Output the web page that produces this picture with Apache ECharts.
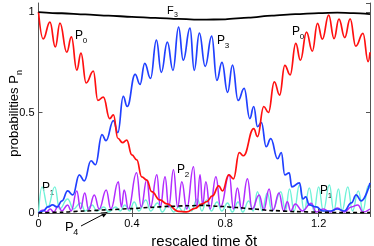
<!DOCTYPE html>
<html><head><meta charset="utf-8">
<script src="https://cdn.jsdelivr.net/npm/echarts@6/dist/echarts.min.js"></script>
<style>html,body{margin:0;padding:0;background:#fff}#c{width:374px;height:246px}</style>
</head><body><div id="c"></div>
<script>
// ---- data ----
const xTicks = [0, 0.4, 0.8, 1.2];
const yTicks = [0, 0.5, 1];

const f3X = [0, 0.1, 0.2, 0.3, 0.4, 0.5, 0.6, 0.7, 0.8, 0.9, 1.0, 1.1, 1.2, 1.28, 1.35, 1.42];
const f3Y = [1.0, 0.994, 0.988, 0.982, 0.976, 0.971, 0.966, 0.962, 0.964, 0.972, 0.982, 0.99, 0.995, 0.997, 0.995, 0.99];

const p0X = [0, 0.02, 0.049, 0.072, 0.092, 0.121, 0.141, 0.164, 0.182, 0.204, 0.235, 0.254, 0.278, 0.305, 0.321, 0.34, 0.36, 0.378, 0.40, 0.421, 0.442, 0.464, 0.485, 0.52, 0.55, 0.6, 0.635, 0.67, 0.70, 0.72, 0.745, 0.772, 0.788, 0.815, 0.835, 0.86, 0.878, 0.922, 0.938, 0.965, 0.985, 1.01, 1.033, 1.055, 1.078, 1.102, 1.122, 1.148, 1.173, 1.195, 1.216, 1.243, 1.266, 1.287, 1.312, 1.335, 1.359, 1.39, 1.412, 1.42];
const p0Y = [1.0, 0.866, 0.95, 0.826, 0.945, 0.80, 0.876, 0.711, 0.796, 0.647, 0.706, 0.56, 0.577, 0.47, 0.488, 0.372, 0.35, 0.363, 0.289, 0.264, 0.18, 0.164, 0.106, 0.065, 0.045, 0.008, 0.006, 0.023, 0.045, 0.056, 0.085, 0.135, 0.11, 0.19, 0.17, 0.30, 0.285, 0.42, 0.38, 0.53, 0.50, 0.653, 0.587, 0.735, 0.687, 0.844, 0.76, 0.90, 0.805, 0.944, 0.865, 0.985, 0.868, 0.965, 0.873, 0.966, 0.83, 0.894, 0.753, 0.80];

const p3X = [0, 0.02, 0.04, 0.06, 0.08, 0.1, 0.125, 0.147, 0.175, 0.196, 0.225, 0.244, 0.272, 0.289, 0.321, 0.34, 0.363, 0.38, 0.414, 0.435, 0.455, 0.48, 0.505, 0.526, 0.552, 0.576, 0.6, 0.62, 0.649, 0.667, 0.689, 0.714, 0.742, 0.764, 0.786, 0.81, 0.831, 0.855, 0.881, 0.905, 0.922, 0.938, 0.955, 0.975, 0.995, 1.024, 1.04, 1.055, 1.074, 1.085, 1.118, 1.132, 1.145, 1.16, 1.19, 1.218, 1.25, 1.28, 1.31, 1.34, 1.361, 1.382, 1.42];
const p3Y = [0, 0.01, 0.03, 0.04, 0.03, 0.06, 0.11, 0.09, 0.19, 0.16, 0.26, 0.24, 0.39, 0.36, 0.46, 0.40, 0.58, 0.53, 0.69, 0.64, 0.745, 0.67, 0.86, 0.70, 0.85, 0.71, 0.925, 0.76, 0.92, 0.71, 0.895, 0.73, 0.88, 0.66, 0.75, 0.60, 0.736, 0.56, 0.62, 0.47, 0.53, 0.43, 0.45, 0.33, 0.37, 0.27, 0.30, 0.19, 0.20, 0.13, 0.15, 0.07, 0.08, 0.04, 0.03, 0.01, 0.01, 0.02, 0.01, 0.05, 0.09, 0.06, 0.15];

const p2X = [0, 0.02, 0.035, 0.05, 0.065, 0.085, 0.1, 0.125, 0.14, 0.164, 0.18, 0.198, 0.215, 0.239, 0.26, 0.29, 0.31, 0.342, 0.355, 0.367, 0.385, 0.42, 0.44, 0.464, 0.48, 0.507, 0.522, 0.542, 0.558, 0.578, 0.596, 0.614, 0.635, 0.664, 0.678, 0.692, 0.703, 0.717, 0.735, 0.76, 0.78, 0.817, 0.835, 0.852, 0.87, 0.895, 0.915, 0.945, 0.965, 0.988, 1.005, 1.03, 1.05, 1.066, 1.08, 1.1, 1.13, 1.168, 1.19, 1.22, 1.25, 1.28, 1.31, 1.34, 1.368, 1.39, 1.42];
const p2Y = [0, 0.015, 0.005, 0.02, 0.005, 0.035, 0.01, 0.04, 0.01, 0.11, 0.02, 0.10, 0.015, 0.09, 0.02, 0.115, 0.02, 0.155, 0.03, 0.115, 0.02, 0.20, 0.03, 0.165, 0.03, 0.19, 0.03, 0.18, 0.03, 0.215, 0.03, 0.155, 0.02, 0.23, 0.03, 0.19, 0.04, 0.156, 0.02, 0.18, 0.03, 0.19, 0.02, 0.125, 0.02, 0.17, 0.02, 0.09, 0.015, 0.12, 0.015, 0.10, 0.01, 0.056, 0.01, 0.045, 0.01, 0.048, 0.005, 0.02, 0.005, 0.025, 0.005, 0.03, 0.04, 0.005, 0.02];

const p1X = [0, 0.015, 0.04, 0.07, 0.09, 0.125, 0.15, 0.18, 0.2, 0.23, 0.25, 0.28, 0.3, 0.33, 0.35, 0.37, 0.39, 0.41, 0.43, 0.46, 0.48, 0.51, 0.53, 0.555, 0.58, 0.6, 0.62, 0.635, 0.655, 0.68, 0.7, 0.72, 0.74, 0.765, 0.785, 0.81, 0.83, 0.855, 0.875, 0.9, 0.92, 0.938, 0.958, 0.98, 1.0, 1.038, 1.058, 1.075, 1.095, 1.118, 1.138, 1.16, 1.18, 1.2, 1.22, 1.246, 1.265, 1.285, 1.3, 1.325, 1.345, 1.37, 1.39, 1.412, 1.42];
const p1Y = [0, 0.13, 0.03, 0.13, 0.02, 0.07, 0.02, 0.05, 0.01, 0.04, 0.01, 0.03, 0.005, 0.03, 0.01, 0.04, 0.01, 0.055, 0.01, 0.065, 0.01, 0.05, 0.005, 0.04, 0.005, 0.03, 0.005, 0.04, 0.01, 0.07, 0.01, 0.065, 0.01, 0.055, 0.01, 0.05, 0.005, 0.055, 0.005, 0.06, 0.01, 0.106, 0.01, 0.10, 0.01, 0.106, 0.01, 0.12, 0.01, 0.139, 0.01, 0.125, 0.01, 0.13, 0.01, 0.139, 0.01, 0.12, 0.01, 0.13, 0.01, 0.11, 0.01, 0.135, 0.12];

const p4X = [0, 0.1, 0.2, 0.3, 0.4, 0.48, 0.56, 0.64, 0.71, 0.78, 0.85, 0.92, 1.0, 1.1, 1.2, 1.3, 1.42];
const p4Y = [0, 0.004, 0.01, 0.016, 0.022, 0.028, 0.033, 0.036, 0.038, 0.033, 0.027, 0.02, 0.012, 0.007, 0.004, 0.002, 0.002];

// ---- chart ----
const FONT = 'Liberation Sans';
const pairs = (xs, ys) => xs.map((x, i) => [x, ys[i]]);
const chart = echarts.init(document.getElementById('c'), null, {renderer: 'canvas'});

function line(name, xs, ys, color, width, extra) {
  return Object.assign({
    name, type: 'line', data: pairs(xs, ys), showSymbol: false, symbol: 'none',
    smooth: 0.45, smoothMonotone: 'x', silent: true,
    lineStyle: {color, width}
  }, extra || {});
}

function lab(x, base, main, sub, size) {
  const s = size || 12;
  return [
    {type: 'text', x: x, y: base, silent: true,
     style: {text: main, font: s + 'px ' + FONT, fill: '#000', verticalAlign: 'bottom'}},
    {type: 'text', x: x + s * 0.64, y: base + s * 0.22, silent: true,
     style: {text: sub, font: Math.round(s * 0.68) + 'px ' + FONT, fill: '#000', verticalAlign: 'bottom'}}
  ];
}

const graphics = [].concat(
  lab(167, 16, 'F', '3', 11),
  lab(75, 42, 'P', '0'),
  lab(217, 47, 'P', '3'),
  lab(292, 38, 'P', '0'),
  lab(177, 176, 'P', '2'),
  lab(42, 194, 'P', '1'),
  lab(320, 197, 'P', '1'),
  lab(65, 234, 'P', '4', 13),
  [
    {type: 'line', silent: true, shape: {x1: 81, y1: 226, x2: 103, y2: 214.5}, style: {stroke: '#000', lineWidth: 1}},
    {type: 'polygon', silent: true, shape: {points: [[108, 212], [100.5, 212.5], [103.5, 217.5]]}, style: {fill: '#000'}},
    {type: 'group', x: 14, y: 116, rotation: Math.PI / 2, silent: true, children: [
      {type: 'text', x: 0, y: 0, style: {text: 'probabilities P', font: '13px ' + FONT, fill: '#000', align: 'center', verticalAlign: 'middle'}},
      {type: 'text', x: 41, y: 6, style: {text: 'n', font: '9px ' + FONT, fill: '#000', align: 'left', verticalAlign: 'middle'}}
    ]}
  ]
);

const axisCol = '#555';
chart.setOption({
  animation: false,
  backgroundColor: '#fff',
  grid: {left: 38.5, right: 4, top: 3, bottom: 33, containLabel: false, outerBoundsMode: 'none'},
  xAxis: [
    {type: 'value', min: 0, max: 1.42, interval: 0.4, position: 'bottom',
     axisLine: {show: true, onZero: false, lineStyle: {color: '#000', width: 1}},
     axisTick: {show: true, inside: true, length: 4, lineStyle: {color: axisCol}},
     axisLabel: {show: true, margin: 5, fontSize: 11, fontFamily: FONT, color: '#000', showMaxLabel: false,
       formatter: v => { const t = xTicks.find(k => Math.abs(k - v) < 1e-6); return t === undefined ? '' : String(t); }},
     splitLine: {show: false},
     name: 'rescaled time δt', nameLocation: 'middle', nameGap: 14,
     nameTextStyle: {fontSize: 15, fontFamily: FONT, color: '#000'}},
    {type: 'value', min: 0, max: 1.42, interval: 0.4, position: 'top',
     axisLine: {show: true, lineStyle: {color: axisCol}},
     axisTick: {show: true, inside: true, length: 4, lineStyle: {color: axisCol}},
     axisLabel: {show: false}, splitLine: {show: false}}
  ],
  yAxis: [
    {type: 'value', min: 0, max: 1.045, interval: 0.5, position: 'left',
     axisLine: {show: true, onZero: false, lineStyle: {color: axisCol}},
     axisTick: {show: true, inside: true, length: 4, lineStyle: {color: axisCol}},
     axisLabel: {show: true, margin: 4, fontSize: 11, fontFamily: FONT, color: '#000', showMaxLabel: false,
       formatter: v => { const t = yTicks.find(k => Math.abs(k - v) < 1e-6); return t === undefined ? '' : String(t); }},
     splitLine: {show: false}},
    {type: 'value', min: 0, max: 1.045, interval: 0.5, position: 'right',
     axisLine: {show: true, onZero: false, lineStyle: {color: axisCol}},
     axisTick: {show: true, inside: true, length: 4, lineStyle: {color: axisCol}},
     axisLabel: {show: false}, splitLine: {show: false}}
  ],
  series: [
    line('P1', p1X, p1Y, '#6ff2d8', 1.4),
    line('P2', p2X, p2Y, '#b22cff', 1.5),
    line('P3', p3X, p3Y, '#2040ff', 1.7),
    line('P0', p0X, p0Y, '#ff1010', 1.7),
    line('P4', p4X, p4Y, '#000', 1.5, {smooth: 0.3, lineStyle: {color: '#000', width: 1.6, type: [4, 3]}}),
    line('F3', f3X, f3Y, '#000', 1.8, {smooth: 0.3})
  ],
  graphic: graphics
});
</script>
</body></html>
